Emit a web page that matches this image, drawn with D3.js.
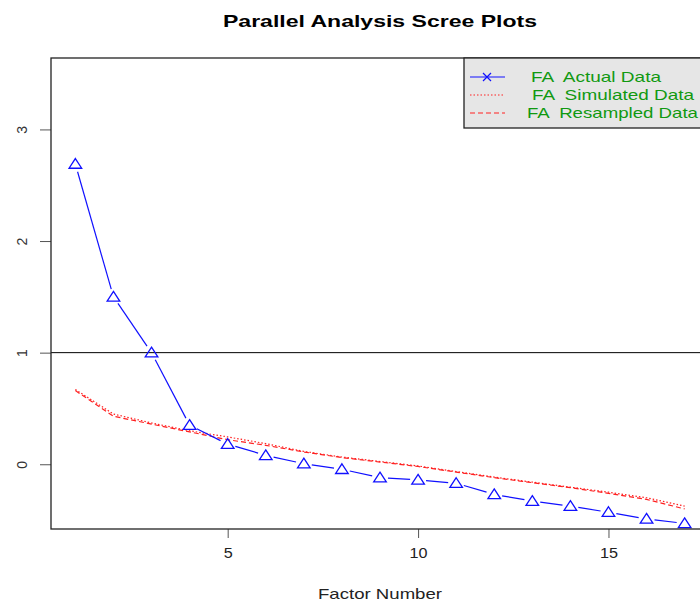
<!DOCTYPE html>
<html>
<head>
<meta charset="utf-8">
<script src="https://cdn.jsdelivr.net/npm/d3@7/dist/d3.min.js"></script>
<style>
  body { margin: 0; background: #fff; }
  svg { display: block; font-family: "Liberation Sans", Arial, sans-serif; }
</style>
</head>
<body>
<div id="chart"></div>
<script>
// data
var factors = d3.range(1, 18);
var actualData = [2.69, 1.50, 1.00, 0.35, 0.18, 0.08, 0.005, -0.045, -0.12, -0.14, -0.17, -0.27, -0.33, -0.375, -0.43, -0.49, -0.53];
var simulatedData = [0.67, 0.45, 0.37, 0.30, 0.245, 0.185, 0.115, 0.065, 0.025, -0.015, -0.065, -0.115, -0.16, -0.205, -0.25, -0.30, -0.375];
var resampledData = [0.66, 0.43, 0.36, 0.29, 0.22, 0.17, 0.11, 0.06, 0.02, -0.02, -0.07, -0.12, -0.165, -0.21, -0.26, -0.315, -0.40];
var xTicks = [5, 10, 15];
var yTicks = [0, 1, 2, 3];
var legendLabels = ["FA  Actual Data", "FA  Simulated Data", "FA  Resampled Data"];

var width = 700, height = 601;
var plot = { left: 51, right: 709, top: 58, bottom: 529 };

var svg = d3.select('#chart').append('svg')
  .attr('width', width).attr('height', height);

var x = d3.scaleLinear().domain([0.36, 17.64]).range([plot.left, plot.right]);
var y = d3.scaleLinear().domain([-0.58, 3.64]).range([plot.bottom, plot.top]);

svg.append('clipPath').attr('id', 'clip').append('rect')
  .attr('x', plot.left).attr('y', plot.top)
  .attr('width', plot.right - plot.left).attr('height', plot.bottom - plot.top);

// the reference text is drawn wide, so stretch it with textLength
function stretch(sel, len) {
  sel.attr('textLength', len).attr('lengthAdjust', 'spacingAndGlyphs');
}

// title
svg.append('text').attr('x', (plot.left + plot.right) / 2).attr('y', 27)
  .attr('text-anchor', 'middle').attr('font-weight', 'bold').attr('font-size', '17px')
  .call(stretch, 314)
  .text('Parallel Analysis Scree Plots');

// axes
var xAxis = svg.append('g').attr('transform', 'translate(0,' + plot.bottom + ')')
  .call(d3.axisBottom(x).tickValues(xTicks).tickSize(9).tickPadding(10).tickFormat(d3.format('d')));
xAxis.select('.domain').remove();
xAxis.selectAll('line').attr('stroke', '#555');
xAxis.selectAll('text').attr('font-size', '14px').attr('fill', '#222')
  .attr('font-family', '"Liberation Sans", Arial, sans-serif')
  .each(function (d) { d3.select(this).call(stretch, String(d).length * 9); });

var yAxis = svg.append('g').attr('transform', 'translate(' + plot.left + ',0)')
  .call(d3.axisLeft(y).tickValues(yTicks).tickSize(11).tickFormat(d3.format('d')));
yAxis.select('.domain').remove();
yAxis.selectAll('line').attr('stroke', '#555');
yAxis.selectAll('text').remove();
yAxis.selectAll('.tick').append('text')
  .attr('transform', 'translate(-29,0) rotate(-90)')
  .attr('text-anchor', 'middle').attr('dy', '0.35em')
  .attr('font-size', '14px').attr('fill', '#333')
  .attr('font-family', '"Liberation Sans", Arial, sans-serif')
  .text(function (d) { return d; });

svg.append('text').attr('x', (plot.left + plot.right) / 2).attr('y', 599)
  .attr('text-anchor', 'middle').attr('font-size', '15px').attr('fill', '#222')
  .call(stretch, 124)
  .text('Factor Number');

var g = svg.append('g').attr('clip-path', 'url(#clip)');

// reference line at 1
g.append('line').attr('x1', plot.left).attr('x2', plot.right)
  .attr('y1', y(1)).attr('y2', y(1)).attr('stroke', '#000').attr('stroke-width', 1);

// red lines
var line = d3.line().x(function (d, i) { return x(factors[i]); }).y(function (d) { return y(d); });
g.append('path').datum(simulatedData).attr('d', line)
  .attr('fill', 'none').attr('stroke', '#ff2020').attr('stroke-width', 1.2).attr('stroke-dasharray', '1.5,2');
g.append('path').datum(resampledData).attr('d', line)
  .attr('fill', 'none').attr('stroke', '#ff2020').attr('stroke-width', 1.2).attr('stroke-dasharray', '5,3');

// actual data, type "b": segments with gaps round the points
var gap = 8;
var segs = d3.pairs(actualData.map(function (d, i) { return [x(factors[i]), y(d)]; }));
g.selectAll('.seg').data(segs).join('line').attr('class', 'seg')
  .each(function (p) {
    var dx = p[1][0] - p[0][0], dy = p[1][1] - p[0][1];
    var len = Math.sqrt(dx * dx + dy * dy);
    var ux = dx / len, uy = dy / len;
    d3.select(this)
      .attr('x1', p[0][0] + ux * gap).attr('y1', p[0][1] + uy * gap)
      .attr('x2', p[1][0] - ux * gap).attr('y2', p[1][1] - uy * gap);
  })
  .attr('stroke', '#1010ff').attr('stroke-width', 1.2);

g.selectAll('.pt').data(actualData).join('path').attr('class', 'pt')
  .attr('transform', function (d, i) { return 'translate(' + x(factors[i]) + ',' + y(d) + ')'; })
  .attr('d', 'M0,-5.5L6.3,4.2L-6.3,4.2Z')
  .attr('fill', 'none').attr('stroke', '#1010ff').attr('stroke-width', 1.3);

// frame
svg.append('rect').attr('x', plot.left).attr('y', plot.top)
  .attr('width', plot.right - plot.left).attr('height', plot.bottom - plot.top)
  .attr('fill', 'none').attr('stroke', '#222').attr('stroke-width', 1.3);

// legend
var legend = svg.append('g');
legend.append('rect').attr('x', 464).attr('y', plot.top).attr('width', 270).attr('height', 70)
  .attr('fill', '#e6e6e6').attr('stroke', '#222').attr('stroke-width', 1.3);
var rowsY = [77, 95, 113];
var textX = [531, 532, 527];
var textLen = [130, 162, 171];
var dashes = [null, '1.5,2', '5,3'];
var colors = ['#1010ff', '#ff2020', '#ff2020'];
legendLabels.forEach(function (lab, i) {
  legend.append('line').attr('x1', 470).attr('x2', 505).attr('y1', rowsY[i]).attr('y2', rowsY[i])
    .attr('stroke', colors[i]).attr('stroke-width', 1.2).attr('stroke-dasharray', dashes[i]);
  legend.append('text').attr('x', textX[i]).attr('y', rowsY[i]).attr('dy', '0.35em')
    .attr('font-size', '15px').attr('fill', '#119911').attr('xml:space', 'preserve')
    .call(stretch, textLen[i]).text(lab);
});
legend.append('path').attr('d', 'M483,73L491,81M491,73L483,81')
  .attr('stroke', '#1010ff').attr('stroke-width', 1.2);
</script>
</body>
</html>
